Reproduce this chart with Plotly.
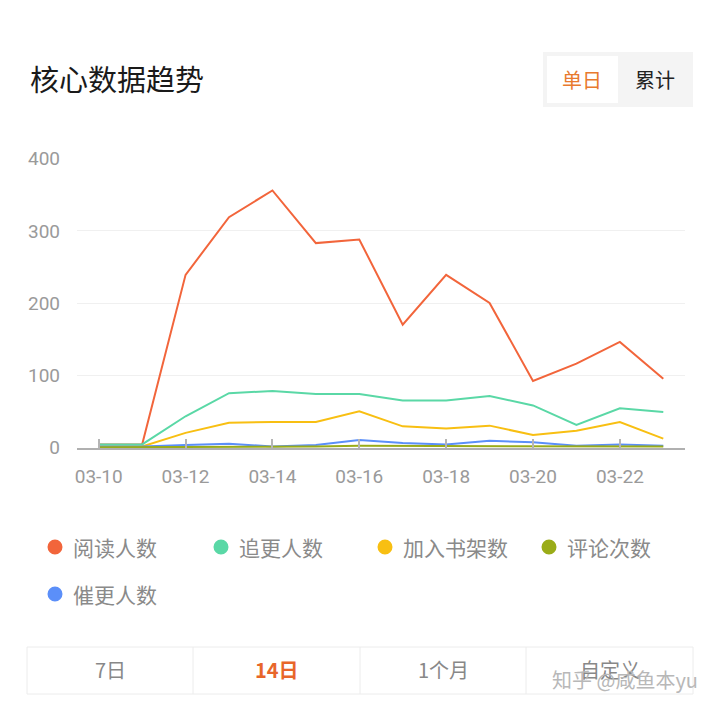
import plotly.graph_objects as go

dates = ["03-10", "03-11", "03-12", "03-13", "03-14", "03-15", "03-16",
         "03-17", "03-18", "03-19", "03-20", "03-21", "03-22", "03-23"]
tick_dates = ["03-10", "03-12", "03-14", "03-16", "03-18", "03-20", "03-22"]
y_ticks = [0, 100, 200, 300, 400]

series_names = ["阅读人数", "追更人数", "加入书架数", "评论次数", "催更人数"]
reads = [4, 4, 239, 319, 356, 283, 288, 170, 239, 200, 92, 116, 146, 95]
follows = [4, 4, 43, 75, 78, 74, 74, 65, 65, 71, 58, 31, 54, 49]
shelf = [1, 1, 20, 34, 35, 35, 50, 29, 26, 30, 17, 23, 35, 12]
comments = [0, 0, 0, 1, 1, 1, 2, 2, 1, 1, 2, 2, 2, 1]
urges = [1, 1, 3, 5, 1, 3, 10, 6, 4, 9, 7, 2, 4, 2]
series_values = [reads, follows, shelf, comments, urges]
colors = ["#f2653b", "#5ad8a6", "#f8bf12", "#9aac18", "#5b8ff9"]

title_text = "核心数据趋势"
toggle_labels = ["单日", "累计"]
tab_labels = ["7日", "14日", "1个月", "自定义"]
watermark = "知乎 @咸鱼本yu"

W, H = 720, 709
L, R, T, B = 77, 685, 158, 448
PW, PH = R - L, B - T

def px(x):
    return (x - L) / PW

def py(y):
    return (B - y) / PH

fig = go.Figure()
draw_order = [0, 2, 4, 1, 3]
for i in draw_order:
    fig.add_trace(go.Scatter(
        x=dates, y=series_values[i], name=series_names[i], mode="lines",
        line=dict(color=colors[i], width=2), showlegend=False,
        hoverinfo="skip"))

fig.update_layout(
    width=W, height=H,
    margin=dict(l=L, r=W - R, t=T, b=H - B, pad=0),
    paper_bgcolor="white", plot_bgcolor="white",
    font=dict(family="Noto Sans CJK SC", color="#999"),
    xaxis=dict(type="category", categoryorder="array", categoryarray=dates,
               range=[-0.5, 13.5], tickmode="array", tickvals=tick_dates,
               ticktext=tick_dates, ticks="inside", ticklen=9, tickwidth=1.5,
               tickcolor="#b5b5b5", showline=True, linecolor="#b0b0b0",
               linewidth=1.5, showgrid=False, zeroline=False,
               tickfont=dict(family="Roboto", size=19, color="#9a9a9a"),
               ticklabelstandoff=10, fixedrange=True),
    yaxis=dict(range=[-1, 401], tickmode="array", tickvals=y_ticks,
               showgrid=True, gridcolor="#f0f0f0", gridwidth=1.2,
               zeroline=False, showline=False, ticks="",
               tickfont=dict(family="Roboto", size=19, color="#9a9a9a"),
               ticklabelstandoff=16, fixedrange=True),
    showlegend=False,
)

shapes = []
annotations = []

def label(x, y, text, font, xanchor="center"):
    annotations.append(dict(x=px(x), y=py(y), xref="paper", yref="paper",
                            text=text, showarrow=False, xanchor=xanchor,
                            yanchor="middle", font=font))

# Title
label(28, 78, title_text, dict(family="Noto Sans CJK SC", size=29, color="#1a1a1a"),
      xanchor="left")

# Toggle box
shapes.append(dict(type="rect", xref="paper", yref="paper",
                   x0=px(543), x1=px(693), y0=py(107), y1=py(52),
                   fillcolor="#f4f4f4", line=dict(width=0), layer="below"))
shapes.append(dict(type="rect", xref="paper", yref="paper",
                   x0=px(547), x1=px(618), y0=py(103), y1=py(56),
                   fillcolor="white", line=dict(width=0), layer="below"))
label(582, 80, toggle_labels[0], dict(size=20, color="#e87a2e"))
label(655, 80, toggle_labels[1], dict(size=20, color="#222"))

# Legend
leg_pos = [(55, 547), (221, 547), (385, 547), (549, 547), (55, 594)]
for i, name in enumerate(series_names):
    cx, cy = leg_pos[i]
    r = 7.5
    shapes.append(dict(type="circle", xref="paper", yref="paper",
                       x0=px(cx - r), x1=px(cx + r), y0=py(cy + r), y1=py(cy - r),
                       fillcolor=colors[i], line=dict(width=0)))
    label(cx + 16, cy, name, dict(size=21, color="#8a8a8a"), xanchor="left")

# Bottom tabs
tab_edges = [27, 193, 360, 526, 693]
shapes.append(dict(type="rect", xref="paper", yref="paper",
                   x0=px(27), x1=px(693), y0=py(694), y1=py(647),
                   fillcolor="white", line=dict(color="#ececec", width=1)))
for xe in tab_edges[1:-1]:
    shapes.append(dict(type="line", xref="paper", yref="paper",
                       x0=px(xe), x1=px(xe), y0=py(694), y1=py(647),
                       line=dict(color="#ececec", width=1)))
for j, lab in enumerate(tab_labels):
    cx = (tab_edges[j] + tab_edges[j + 1]) / 2
    if j == 1:
        label(cx, 669, "<b>" + lab + "</b>", dict(size=20, color="#e8662a"))
    else:
        label(cx, 669, lab, dict(size=20, color="#888"))

# Watermark
label(700, 679, watermark, dict(size=20, color="#b8b8b8"), xanchor="right")

fig.update_layout(shapes=shapes, annotations=annotations)
fig.write_html("out.html")
